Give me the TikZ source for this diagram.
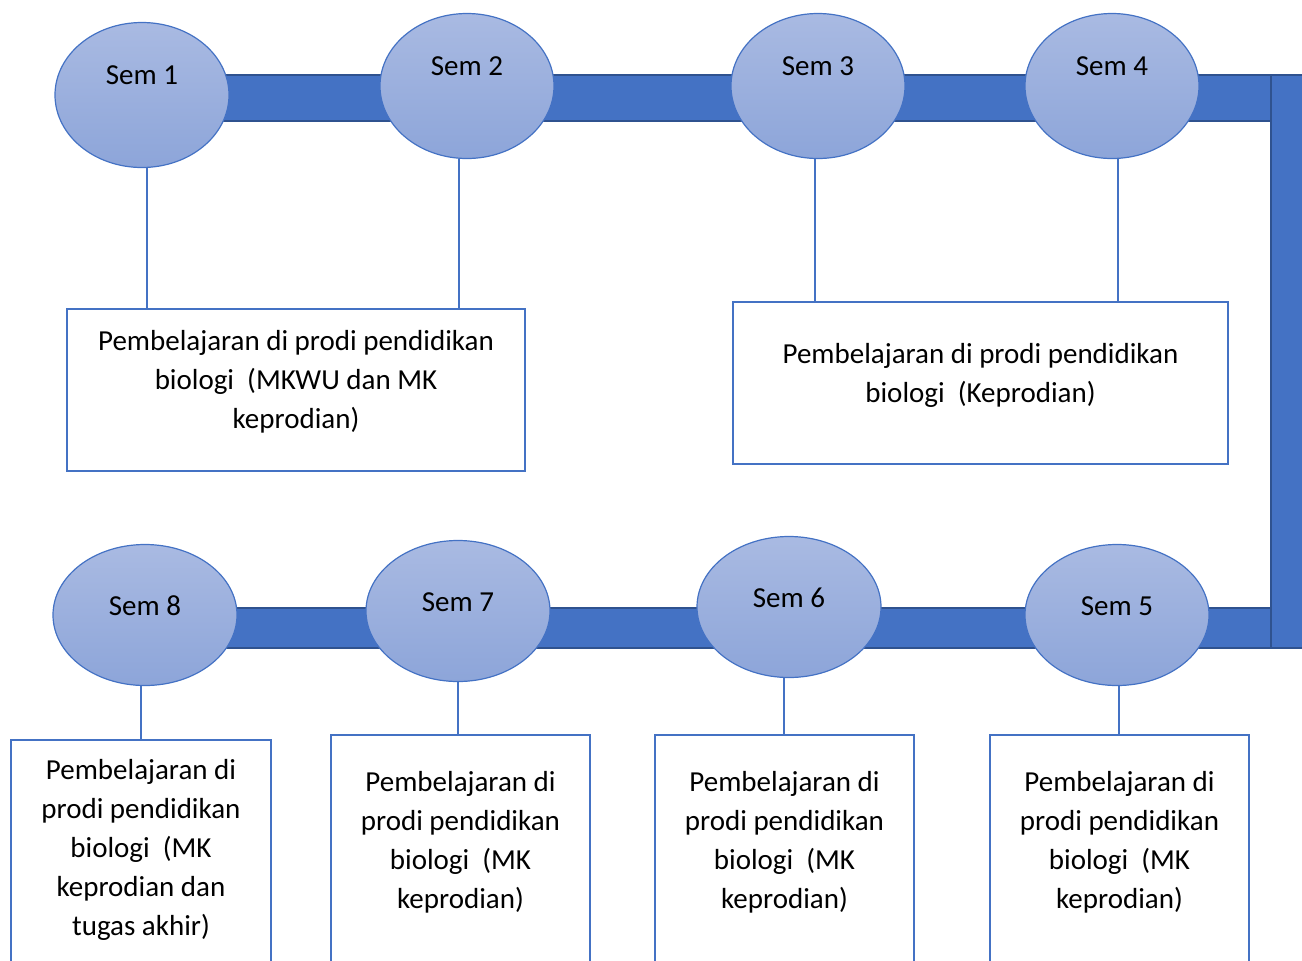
\documentclass[tikz,border=0pt]{standalone}
\usepackage{fontspec}
\setmainfont{Carlito}
\usetikzlibrary{shapes.geometric}
\definecolor{barblue}{HTML}{4472C4}
\definecolor{bardark}{HTML}{2F528F}
\definecolor{semtop}{HTML}{A9BAE2}
\definecolor{sembot}{HTML}{8DA5D9}

\begin{document}
\begin{tikzpicture}[x=0.5pt,y=-0.5pt,
  every node/.style={font=\fontsize{14.5}{19.5}\selectfont},
  bar/.style={fill=barblue,draw=bardark,line width=1pt},
  sem/.style={ellipse,draw=barblue,line width=0.6pt,top color=semtop,bottom color=sembot,inner sep=0pt,text height=10pt},
  semup/.style={sem,minimum width=87pt,minimum height=72.5pt,text depth=21pt},
  semdown/.style={sem,minimum width=92pt,minimum height=70.5pt,text depth=10pt},
  box/.style={draw=barblue,line width=1pt,fill=white,inner sep=0pt},
  boxtext/.style={align=center,inner sep=0pt},
  link/.style={draw=barblue,line width=0.6pt}]
\useasboundingbox (0,0) rectangle (1302,960);

% the track
\draw[bar] (142,75) rectangle (1272,121);
\draw[bar] (145,608) rectangle (1272,648);
\draw[bar] (1271,75) rectangle (1320,648);

\foreach \n/\x/\y in {1/142/95, 2/467/86, 3/818/86, 4/1112/86} {
  \node[semup] (s\n) at (\x,\y) {Sem \n};
}
\foreach \n/\x/\y in {8/145/615, 7/458/611, 6/789/607, 5/1117/615} {
  \node[semdown] (s\n) at (\x,\y) {Sem \n};
}

\node[box,minimum width=229pt,minimum height=81pt,
  label={[boxtext,yshift=4pt]center:{Pembelajaran di prodi pendidikan\\ biologi\ \ (MKWU dan MK\\ keprodian)}}]
  (b12) at (296,390) {};
\node[box,minimum width=247.5pt,minimum height=81pt,
  label={[boxtext,yshift=4pt]center:{Pembelajaran di prodi pendidikan\\ biologi\ \ (Keprodian)}}]
  (b34) at (980.5,383) {};
\node[box,minimum width=130pt,minimum height=112pt,
  label={[boxtext,yshift=0.8pt]center:{Pembelajaran di\\ prodi pendidikan\\ biologi\ \ (MK\\ keprodian dan\\ tugas akhir)}}]
  (b8) at (141,852) {};
\foreach \n/\x in {7/460.5, 6/784.5, 5/1119.5} {
  \node[box,minimum width=129.5pt,minimum height=114.5pt,
    label={[boxtext,yshift=3.5pt]center:{Pembelajaran di\\ prodi pendidikan\\ biologi\ \ (MK\\ keprodian)}}]
    (b\n) at (\x,849.5) {};
}

\foreach \n/\d in {1/2.5pt, 2/-4pt} {
  \draw[link] ([xshift=\d]s\n.south) -- ([xshift=\d]s\n.south |- b12.north);
}
\foreach \n/\d in {3/-1.5pt, 4/3pt} {
  \draw[link] ([xshift=\d]s\n.south) -- ([xshift=\d]s\n.south |- b34.north);
}
\foreach \n/\d in {5/1pt, 6/-2.5pt, 7/0pt, 8/-2pt} {
  \draw[link] ([xshift=\d]s\n.south) -- ([xshift=\d]s\n.south |- b\n.north);
}

\end{tikzpicture}
\end{document}
